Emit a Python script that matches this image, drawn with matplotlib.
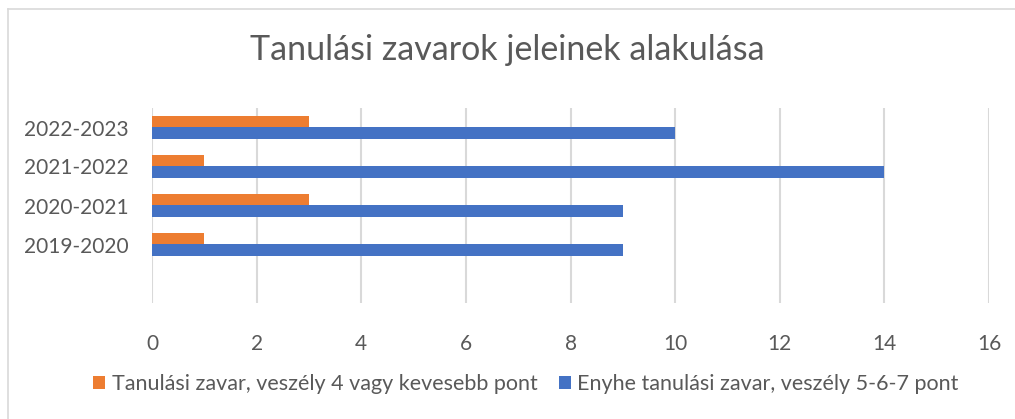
import matplotlib
matplotlib.use('Agg')
import matplotlib.pyplot as plt
import numpy as np

# data
years = ['2019-2020', '2020-2021', '2021-2022', '2022-2023']
low_risk = [1, 3, 1, 3]        # Tanulási zavar, veszély 4 vagy kevesebb pont
mild = [9, 9, 14, 10]          # Enyhe tanulási zavar, veszély 5-6-7 pont
label_low = 'Tanulási zavar, veszély 4 vagy kevesebb pont'
label_mild = 'Enyhe tanulási zavar, veszély 5-6-7 pont'

plt.rcParams['font.family'] = ['Lato', 'DejaVu Sans']
txt = '#595959'

fig = plt.figure(figsize=(10.15, 4.19), dpi=100)
ax = fig.add_axes([152/1015, 1 - 303/419, (989-152)/1015, (303-108)/419])

y = np.arange(len(years))
h = 0.29
ax.barh(y + h/2, low_risk, height=h, color='#ED7D31', label=label_low, zorder=3)
ax.barh(y - h/2, mild, height=h, color='#4472C4', label=label_mild, zorder=3)

ax.set_xlim(0, 16)
ax.set_ylim(-1.5, 3.5)
ax.set_xticks(range(0, 17, 2))
ax.set_yticks(y)
ax.set_yticklabels(years)
ax.grid(axis='x', color='#D9D9D9', linewidth=1.5, zorder=0)
for s in ax.spines.values():
    s.set_visible(False)
ax.tick_params(length=0, labelsize=15, colors=txt)
ax.tick_params(axis='y', pad=17)
ax.tick_params(axis='x', pad=22)

fig.text(0.5, 1 - 50/419, 'Tanulási zavarok jeleinek alakulása',
         ha='center', va='center', fontsize=24.5, color=txt)

fig.legend(loc='center', bbox_to_anchor=(526/1015, 1 - 384/419), ncol=2,
           frameon=False, fontsize=15.5, labelcolor=txt,
           handlelength=0.55, handleheight=0.55, handletextpad=0.3, columnspacing=1.0)

# chart area border
fig.add_artist(plt.Line2D([8/1015, 1], [1 - 9/419, 1 - 9/419], color='#D9D9D9', lw=1.2))
fig.add_artist(plt.Line2D([8/1015, 8/1015], [0, 1 - 9/419], color='#D9D9D9', lw=1.2))

fig.savefig('out.png', dpi=100)
